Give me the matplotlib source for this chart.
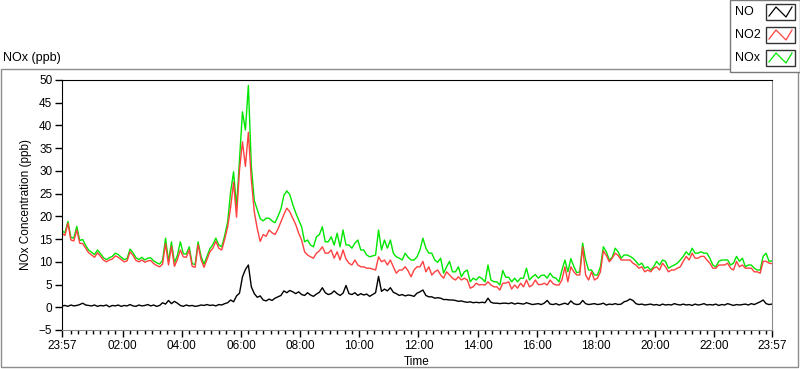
"""
NOx diurnal chart (NO, NO2, NOx in ppb) in the style of a LabVIEW waveform graph.
"""

import matplotlib

matplotlib.use("Agg")
import matplotlib.pyplot as plt
import numpy as np
from matplotlib.lines import Line2D
from matplotlib.patches import Rectangle

# sampling grid: minutes after 23:57, one value every 6 minutes for 24 h
SAMPLE_MINUTES = np.arange(0, 24 * 60 + 1, 6)

# NO (black), one row per hour
NO_PPB = [
    0.3, 0.4, 0.2, 0.5, 0.3, 0.4, 0.6, 0.9, 0.5, 0.4,
    0.3, 0.5, 0.2, 0.4, 0.3, 0.5, 0.1, 0.4, 0.3, 0.5,
    0.2, 0.4, 0.3, 0.6, 0.3, 0.2, 0.5, 0.3, 0.4, 0.6,
    0.3, 0.5, 0.2, 0.4, 1.0, 0.7, 1.5, 0.8, 1.3, 0.9,
    0.4, 0.2, 0.5, 0.3, 0.4, 0.2, 0.3, 0.5, 0.4, 0.6,
    0.4, 0.5, 0.3, 0.6, 0.5, 0.8, 1.0, 1.6, 1.2, 2.5,
    3.1, 6.7, 8.3, 9.3, 4.5, 3.0, 2.2, 2.5, 1.6, 1.4,
    1.8, 1.5, 2.0, 2.3, 2.6, 3.6, 3.2, 3.7, 3.4, 3.0,
    3.4, 2.8, 2.6, 3.2, 2.7, 2.4, 2.9, 3.3, 4.3, 3.2,
    2.8, 3.0, 3.6, 3.0, 2.6, 3.1, 4.8, 3.0, 2.8, 3.2,
    2.6, 3.0, 2.7, 2.9, 2.4, 2.8, 3.2, 6.8, 3.5, 4.0,
    3.6, 4.3, 3.3, 3.0, 2.6, 2.8, 2.5, 2.7, 2.6, 2.4,
    3.1, 3.4, 3.8, 2.6, 2.3, 2.3, 2.0, 2.1, 2.0, 1.7,
    1.7, 1.6, 1.6, 1.5, 1.3, 1.4, 1.2, 1.1, 1.2, 1.0,
    1.1, 1.0, 1.1, 1.0, 2.0, 1.1, 0.9, 0.9, 0.8, 0.9,
    0.9, 0.8, 1.0, 0.7, 0.9, 0.8, 0.7, 1.0, 0.8, 0.6,
    0.7, 0.8, 0.6, 0.9, 1.5, 0.7, 0.6, 0.8, 0.5, 0.7,
    0.9, 0.6, 1.4, 0.8, 0.6, 0.7, 1.5, 0.8, 0.6, 0.7,
    0.8, 0.6, 0.7, 0.9, 0.5, 0.7, 0.6, 0.8, 0.6, 0.7,
    1.2, 1.4, 1.8, 1.5, 0.8, 0.6, 0.7, 0.5, 0.6, 0.7,
    0.5, 0.6, 0.4, 0.7, 0.5, 0.6, 0.5, 0.8, 0.6, 0.5,
    0.7, 0.5, 0.6, 0.4, 0.7, 0.5, 0.6, 0.8, 0.5, 0.6,
    0.5, 0.7, 0.4, 0.6, 0.5, 0.8, 0.6, 0.4, 0.6, 0.5,
    0.6, 0.7, 0.5, 0.8, 0.6, 0.9, 1.2, 1.6, 0.8, 0.6,
    0.7,
]

# NO2 (red)
NO2_PPB = [
    16.3, 15.8, 18.5, 14.8, 14.6, 17.0, 14.1, 14.0, 13.0, 12.0,
    11.5, 11.0, 12.0, 11.2, 10.4, 10.0, 10.4, 10.6, 11.3, 11.0,
    10.5, 10.0, 10.2, 12.2, 11.4, 10.3, 10.0, 10.4, 9.9, 10.2,
    10.3, 9.6, 9.2, 8.9, 9.5, 14.0, 9.3, 13.4, 9.0, 10.5,
    12.6, 11.1, 11.0, 12.6, 9.0, 8.8, 13.8, 10.5, 8.8, 10.5,
    12.2, 13.0, 14.5, 13.0, 12.6, 15.0, 17.7, 22.0, 27.5, 19.8,
    30.2, 36.4, 31.0, 38.5, 28.0, 21.0, 17.3, 14.5, 16.0, 15.6,
    17.0, 16.4, 16.0, 17.2, 18.8, 20.4, 21.8, 21.0, 19.6, 18.2,
    16.3, 14.8, 12.2, 11.5, 11.1, 10.8, 11.9, 12.4, 13.3, 11.9,
    11.9, 12.6, 10.8, 12.2, 10.4, 12.6, 10.6, 9.7, 9.3, 10.4,
    9.3, 8.9, 8.9, 8.6, 8.6, 8.4, 8.2, 11.1, 10.0, 10.4,
    9.3, 10.4, 8.9, 7.5, 8.2, 8.2, 8.9, 8.0, 6.7, 8.2,
    8.9, 8.9, 10.1, 7.8, 8.9, 7.1, 7.8, 8.2, 7.1, 6.4,
    7.8, 7.1, 6.4, 6.0, 6.7, 6.0, 6.4, 6.0, 4.2, 4.5,
    5.3, 4.9, 5.0, 4.9, 5.6, 4.9, 4.5, 4.5, 3.8, 5.3,
    5.3, 5.6, 4.0, 4.9, 4.2, 5.3, 4.5, 6.0, 4.5, 4.9,
    6.0, 5.0, 5.0, 5.3, 4.9, 6.0, 5.2, 4.9, 4.9, 6.0,
    8.9, 5.6, 8.9, 7.8, 7.1, 7.1, 13.3, 7.1, 6.0, 7.8,
    6.0, 6.4, 7.8, 12.4, 11.4, 10.0, 10.8, 11.9, 11.4, 10.4,
    10.4, 10.4, 10.4, 9.7, 9.3, 8.6, 8.9, 7.8, 8.2, 7.8,
    8.6, 8.9, 8.2, 9.7, 8.9, 7.8, 8.2, 8.2, 8.6, 8.9,
    10.1, 11.2, 10.4, 11.9, 10.8, 10.8, 11.2, 11.2, 10.4, 9.7,
    8.6, 8.6, 9.3, 9.3, 9.3, 9.7, 8.6, 8.2, 10.1, 8.9,
    9.3, 8.6, 8.6, 8.6, 7.8, 7.8, 7.5, 10.1, 10.1, 9.7,
    9.6,
]

# NOx (green)
NOX_PPB = [
    16.8, 16.4, 18.9, 15.4, 15.2, 17.8, 14.7, 14.9, 13.6, 12.6,
    12.1, 11.6, 12.6, 11.8, 10.9, 10.5, 10.9, 11.2, 11.9, 11.6,
    11.0, 10.5, 10.7, 12.8, 12.0, 10.9, 10.5, 11.0, 10.4, 10.8,
    10.9, 10.2, 9.8, 9.5, 10.3, 15.2, 10.1, 14.4, 9.8, 11.4,
    14.4, 11.8, 11.7, 13.3, 9.6, 9.4, 14.4, 11.2, 9.5, 11.2,
    12.9, 13.8, 15.2, 13.7, 13.3, 15.8, 18.8, 25.4, 29.8, 22.0,
    32.4, 43.0, 39.0, 48.8, 31.0, 23.5, 21.5, 19.5, 19.0, 19.6,
    19.6, 19.0, 18.6, 20.0, 21.6, 24.6, 25.6, 24.8, 22.6, 20.8,
    19.2, 17.7, 14.4, 14.8, 13.7, 13.3, 15.5, 16.0, 17.7, 14.4,
    14.4, 15.5, 13.7, 16.3, 13.3, 17.0, 13.7, 13.7, 13.0, 14.1,
    14.8, 12.6, 12.6, 11.5, 11.1, 11.3, 11.5, 17.0, 12.6, 14.8,
    13.0, 14.8, 11.9, 11.1, 10.8, 10.4, 11.9, 11.0, 10.4, 10.4,
    11.1, 12.6, 15.2, 13.0, 11.9, 11.9, 10.4, 9.9, 10.8, 7.5,
    8.9, 10.1, 7.8, 7.8, 8.9, 6.7, 7.8, 8.2, 5.6, 6.4,
    6.0, 6.7, 6.3, 5.6, 9.3, 6.0, 5.6, 5.6, 4.9, 8.1,
    6.6, 6.6, 5.6, 6.4, 5.6, 6.4, 6.4, 8.6, 6.0, 6.7,
    7.2, 6.4, 7.0, 7.1, 6.4, 7.5, 6.6, 6.4, 5.6, 8.2,
    10.4, 7.8, 10.7, 9.0, 7.6, 7.8, 14.1, 10.4, 8.2, 8.2,
    7.1, 7.1, 8.9, 13.3, 12.2, 10.4, 11.0, 13.0, 12.2, 10.8,
    11.5, 11.5, 11.2, 10.8, 10.1, 9.3, 9.7, 8.6, 8.9, 8.2,
    8.9, 10.1, 9.3, 10.4, 10.1, 8.6, 9.0, 9.3, 9.7, 10.4,
    11.2, 12.2, 11.5, 13.0, 11.9, 11.9, 12.2, 11.9, 11.9, 10.8,
    9.3, 8.9, 10.1, 10.4, 10.4, 10.4, 9.3, 9.7, 11.2, 10.1,
    10.8, 8.9, 9.3, 9.3, 8.6, 8.2, 8.2, 11.2, 11.9, 10.1,
    10.2,
]

TIME_LABELS = ["23:57", "02:00", "04:00", "06:00", "08:00", "10:00", "12:00",
               "14:00", "16:00", "18:00", "20:00", "22:00", "23:57"]
SERIES_NAMES = ["NO", "NO2", "NOx"]
SERIES_COLORS = ["#000000", "#ff4040", "#00e600"]

W, H = 800, 369
FONT = "Liberation Sans"
FS = 8.5


def px(x, y):
    """Pixel position (origin top-left) -> figure fraction."""
    return x / W, 1 - y / H


def label_position(label: str) -> float:
    """Hours after 23:57 for a HH:MM label."""
    hh, mm = (int(p) for p in label.split(":"))
    return ((hh * 60 + mm) - (23 * 60 + 57)) % (24 * 60) / 60


def draw_legend(fig):
    x0, y0 = px(730, 72)
    fig.add_artist(Rectangle((x0, y0), 70 / W, 72 / H, transform=fig.transFigure,
                             facecolor="white", edgecolor="#7a7a7a", lw=1))
    for i, (name, color) in enumerate(zip(SERIES_NAMES, SERIES_COLORS)):
        top = 4 + i * 23
        fig.text(*px(735, top + 8), name, fontsize=9, family=FONT,
                 va="center", ha="left")
        bx, by = px(766, top + 16)
        fig.add_artist(Rectangle((bx, by), 29 / W, 16 / H, transform=fig.transFigure,
                                 facecolor="white", edgecolor="#333333", lw=1))
        xs = [769, 776, 786, 792]
        ys = [top + 12, top + 3, top + 13, top + 3]
        fig.add_artist(Line2D([x / W for x in xs], [1 - y / H for y in ys],
                              transform=fig.transFigure, color=color, lw=0.9))


fig = plt.figure(figsize=(W / 100, H / 100), dpi=100)

# outer panel of the graph
px0, py0 = px(1, 367)
fig.add_artist(Rectangle((px0, py0), 797 / W, 298 / H, transform=fig.transFigure,
                         facecolor="none", edgecolor="#8c8c8c", lw=1))
fig.text(*px(3, 58), "NOx (ppb)", fontsize=9, family=FONT, va="center")

ax = fig.add_axes([62 / W, 1 - 330 / H, 710 / W, 250 / H])
hours = SAMPLE_MINUTES / 60
ax.plot(hours, NOX_PPB, color=SERIES_COLORS[2], lw=1)
ax.plot(hours, NO2_PPB, color=SERIES_COLORS[1], lw=1)
ax.plot(hours, NO_PPB, color=SERIES_COLORS[0], lw=1)

ax.set_xlim(0, 24)
ax.set_ylim(-5, 50)
ax.set_yticks(np.arange(-5, 51, 5))
major = [label_position(t) for t in TIME_LABELS[:-1]] + [24]
ax.set_xticks(major)
ax.set_xticklabels(TIME_LABELS)
minor = [label_position("00:15") + 0.25 * k for k in range(96)]
minor = [m for m in minor if m < 24 and min(abs(m - v) for v in major) > 0.05]
ax.set_xticks(minor, minor=True)

ax.tick_params(axis="both", which="major", direction="out", length=5, width=1,
               labelsize=FS, pad=2)
ax.tick_params(axis="x", which="minor", direction="out", length=3, width=1)
for lab in ax.get_xticklabels() + ax.get_yticklabels():
    lab.set_family(FONT)

for side in ("left", "top"):
    ax.spines[side].set_color("black")
for side in ("right", "bottom"):
    ax.spines[side].set_color("#8c8c8c")

ax.set_ylabel("NOx Concentration (ppb)", fontsize=FS, family=FONT, labelpad=5)
ax.set_xlabel("Time", fontsize=FS, family=FONT, labelpad=3)

draw_legend(fig)

fig.savefig("out.png", dpi=100)
